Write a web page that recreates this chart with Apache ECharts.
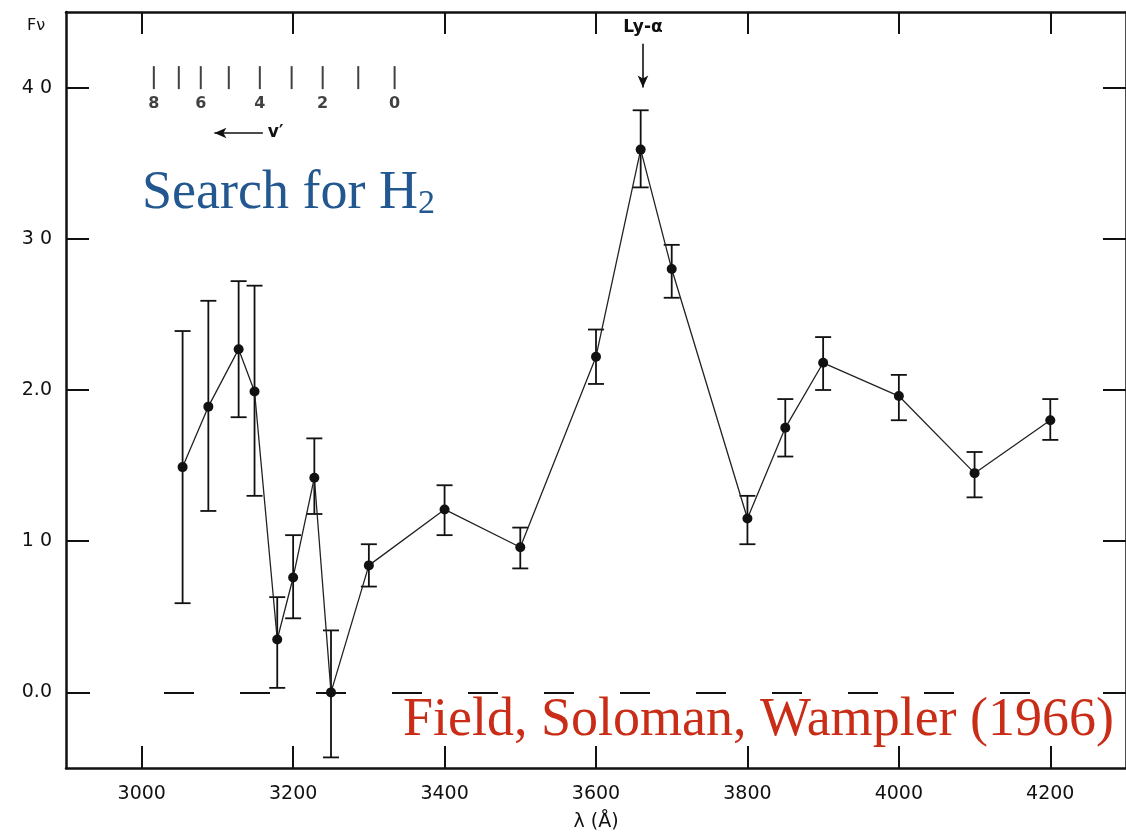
<!DOCTYPE html>
<html>
<head>
<meta charset="utf-8">
<script src="https://cdn.jsdelivr.net/npm/echarts@6/dist/echarts.min.js"></script>
<style>
  html, body { margin: 0; padding: 0; background: #fff; }
  #chart { width: 1126px; height: 838px; }
</style>
</head>
<body>
<div id="chart"></div>
<script>
// observed wavelengths (A) and flux with error bar ends
var lambda = [3054, 3088, 3128, 3149, 3179, 3200, 3228, 3250, 3300, 3400, 3500, 3600, 3659, 3700, 3800, 3850, 3900, 4000, 4100, 4200]
var flux = [1.49, 1.89, 2.27, 1.99, 0.35, 0.76, 1.42, 0.0, 0.84, 1.21, 0.96, 2.22, 3.59, 2.80, 1.15, 1.75, 2.18, 1.96, 1.45, 1.80]
var errHigh = [2.39, 2.59, 2.72, 2.69, 0.63, 1.04, 1.68, 0.41, 0.98, 1.37, 1.09, 2.40, 3.85, 2.96, 1.30, 1.94, 2.35, 2.10, 1.59, 1.94]
var errLow = [0.59, 1.20, 1.82, 1.30, 0.03, 0.49, 1.18, -0.43, 0.70, 1.04, 0.82, 2.04, 3.34, 2.61, 0.98, 1.56, 2.00, 1.80, 1.29, 1.67]

// axis ticks
var xTicks = [3000, 3200, 3400, 3600, 3800, 4000, 4200]
var yTicks = [0, 1, 2, 3, 4]
var yTickLabels = ['0.0', '1 0', '2.0', '3 0', '4 0']

// H2 Lyman band ladder, v' = 8 .. 0
var vLambda = [3016, 3049, 3078, 3115, 3156, 3198, 3239, 3286, 3334]
var vLabels = ['8', '', '6', '', '4', '', '2', '', '0']

var lyAlpha = 3662

var ink = '#111'
var tickFont = 'DejaVu Sans'

// zero line dash: short first piece, then regular long dashes
var zeroDash = [24, 74]
for (var k = 0; k < 12; k++) zeroDash.push(30, 46)

var myChart = echarts.init(document.getElementById('chart'))

function xAxisDef(pos, labels) {
  return {
    type: 'value',
    position: pos,
    min: 2900,
    max: 4300,
    name: labels ? 'λ (Å)' : '',
    nameLocation: 'middle',
    nameGap: 45,
    nameTextStyle: { fontFamily: tickFont, fontSize: 19, color: ink },
    axisLine: { show: true, onZero: false, lineStyle: { color: ink, width: 2.5 } },
    axisTick: { show: true, inside: true, length: 22, customValues: xTicks, lineStyle: { color: ink, width: 2 } },
    axisLabel: {
      show: labels,
      customValues: xTicks,
      margin: 17,
      fontFamily: tickFont,
      fontSize: 19,
      color: ink,
      formatter: function (v) { return String(v) }
    },
    splitLine: { show: false }
  }
}

function yAxisDef(pos, labels) {
  return {
    type: 'value',
    position: pos,
    min: -0.5,
    max: 4.5,
    axisLine: { show: true, onZero: false, lineStyle: { color: ink, width: 2.5 } },
    axisTick: { show: true, inside: true, length: 23, customValues: yTicks, lineStyle: { color: ink, width: 2 } },
    axisLabel: {
      show: labels,
      customValues: yTicks,
      margin: 14,
      fontFamily: tickFont,
      fontSize: 19,
      color: ink,
      formatter: function (v) {
        return yTickLabels[yTicks.indexOf(v)]
      }
    },
    splitLine: { show: false }
  }
}

var option = {
  animation: false,
  backgroundColor: '#fff',
  grid: { left: 66, right: -3, top: 12, bottom: 70 },
  xAxis: [xAxisDef('bottom', true), xAxisDef('top', false)],
  yAxis: [yAxisDef('left', true), yAxisDef('right', false)],
  graphic: [
    {
      type: 'text',
      left: 27,
      top: 18,
      style: { text: 'Fν', fontFamily: tickFont, fontSize: 16, fill: ink }
    },
    {
      type: 'text',
      x: 142,
      y: 194,
      style: {
        text: 'Search for H{sub|2}',
        fontFamily: 'Liberation Serif',
        fontSize: 54,
        fill: '#22578f',
        verticalAlign: 'middle',
        rich: {
          sub: { fontFamily: 'Liberation Serif', fontSize: 34, fill: '#22578f', verticalAlign: 'bottom' }
        }
      }
    },
    {
      type: 'text',
      x: 403,
      y: 721,
      style: {
        text: 'Field, Soloman, Wampler (1966)',
        fontFamily: 'Liberation Serif',
        fontSize: 54,
        fill: '#c92d17',
        verticalAlign: 'middle'
      }
    }
  ],
  series: [
    {
      name: 'errors',
      type: 'custom',
      xAxisIndex: 0,
      yAxisIndex: 0,
      data: lambda.map(function (l, i) { return [l, errHigh[i], errLow[i]] }),
      encode: { x: 0, y: [1, 2] },
      renderItem: function (params, api) {
        var x = api.value(0)
        var top = api.coord([x, api.value(1)])
        var bot = api.coord([x, api.value(2)])
        var hw = 8
        var st = { stroke: ink, lineWidth: 1.8 }
        return {
          type: 'group',
          children: [
            { type: 'line', shape: { x1: top[0], y1: top[1], x2: bot[0], y2: bot[1] }, style: st },
            { type: 'line', shape: { x1: top[0] - hw, y1: top[1], x2: top[0] + hw, y2: top[1] }, style: st },
            { type: 'line', shape: { x1: bot[0] - hw, y1: bot[1], x2: bot[0] + hw, y2: bot[1] }, style: st }
          ]
        }
      },
      z: 2
    },
    {
      name: 'flux',
      type: 'line',
      xAxisIndex: 0,
      yAxisIndex: 0,
      data: lambda.map(function (l, i) { return [l, flux[i]] }),
      symbol: 'circle',
      symbolSize: 10,
      itemStyle: { color: ink },
      lineStyle: { color: '#222', width: 1.3 },
      z: 3,
      markLine: {
        silent: true,
        symbol: 'none',
        label: { show: false },
        lineStyle: { color: ink, width: 2, type: zeroDash },
        data: [[{ coord: [2900, 0] }, { coord: [4180, 0] }]]
      }
    },
    {
      name: 'ladder',
      type: 'scatter',
      xAxisIndex: 0,
      yAxisIndex: 0,
      data: vLambda.map(function (l) { return [l, 4.066] }),
      symbol: 'rect',
      symbolSize: [2, 23],
      itemStyle: { color: ink },
      label: {
        show: true,
        position: 'bottom',
        distance: 7,
        fontFamily: tickFont,
        fontSize: 16,
        fontWeight: 'bold',
        color: ink,
        formatter: function (p) { return vLabels[p.dataIndex] }
      },
      markLine: {
        silent: true,
        symbol: ['none', 'arrow'],
        symbolSize: [8, 12],
        lineStyle: { color: ink, width: 1.6, type: 'solid' },
        label: { show: true, position: 'start', fontFamily: tickFont, fontSize: 17, fontWeight: 'bold', color: ink },
        data: [
          [
            { coord: [lyAlpha, 4.29], label: { formatter: 'Ly-α', distance: 8 } },
            { coord: [lyAlpha, 4.0] }
          ],
          [
            { coord: [3160, 3.70], label: { formatter: 'v′' } },
            { coord: [3096, 3.70] }
          ]
        ]
      }
    }
  ]
}

myChart.setOption(option)
</script>
</body>
</html>
